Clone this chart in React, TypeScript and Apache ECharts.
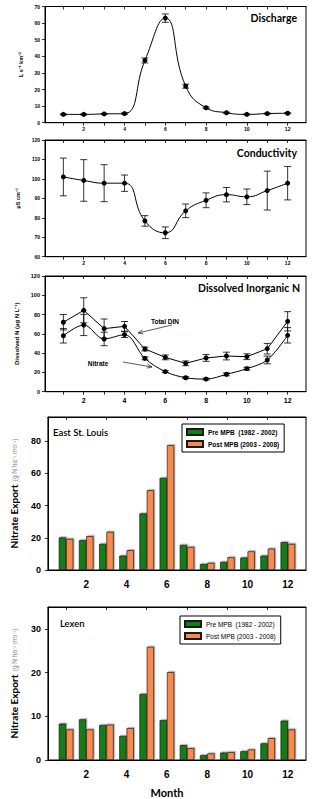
import { useEffect, useRef } from 'react';
import * as echarts from 'echarts';

// ---------- data ----------
const months = [1, 2, 3, 4, 5, 6, 7, 8, 9, 10, 11, 12];
const evenMonths = [2, 4, 6, 8, 10, 12];
const oddMonths = [1, 3, 5, 7, 9, 11];

const dischargeMean = [5, 5, 5.3, 5.5, 37.5, 63, 22, 9, 6, 5, 5.5, 5.7];
const dischargeErr = [0.3, 0.3, 0.3, 0.4, 1.5, 2.5, 1.2, 0.5, 0.3, 0.3, 0.3, 0.3];

const conductivityMean = [101, 99.2, 97.8, 97.8, 78.4, 72.3, 83.6, 89, 91.9, 90.8, 94, 97.8];
const conductivityErr = [9.7, 10.7, 9.5, 4.2, 2.7, 3, 3.5, 3.8, 3.7, 4, 10, 8.6];

const totalDinMean = [72, 84.4, 65.4, 67.8, 44.3, 35.6, 29.4, 35, 37, 36.3, 44.6, 73];
const totalDinErr = [8, 13, 10, 5, 2, 2.5, 2.5, 3.5, 4, 3, 5.5, 10];
const nitrateMean = [58, 69.2, 54.7, 59.2, 34.6, 20.8, 14.5, 13.1, 18, 23.9, 32.9, 58.5];
const nitrateErr = [7.5, 11, 7, 3, 1.5, 1, 1, 1, 1.5, 1.5, 4, 8];

const eslPre = [20.2, 18.5, 16.2, 8.9, 35.1, 57.2, 15.6, 3.7, 5, 7.7, 8.9, 17.3];
const eslPost = [19.3, 21, 23.7, 12.3, 49.5, 77.5, 14.3, 4.4, 7.9, 11.6, 13.3, 16.2];

const lexPre = [8.3, 9.3, 8.0, 5.5, 15.1, 9.1, 3.4, 1.1, 1.7, 2.0, 3.8, 9.0];
const lexPost = [7.0, 7.0, 8.1, 7.3, 25.9, 20.1, 2.7, 1.5, 1.8, 2.4, 5.0, 7.0];

const PRE = 'Pre MPB  (1982 - 2002)';
const POST = 'Post MPB (2003 - 2008)';

// ---------- styles ----------
const FONT = "'Liberation Sans', Arial, sans-serif";
const TFONT = "Lato, 'Open Sans', sans-serif";
const GREEN = '#147c14';
const ORANGE = '#fa8a4c';
const XMIN = 0.1;
const XMAX = 12.9;

const grids = [
  { left: 45, top: 6.5, width: 261, height: 116.2 },
  { left: 45, top: 140, width: 261, height: 116.7 },
  { left: 45, top: 276, width: 261, height: 115.7 },
  { left: 45, top: 417, width: 261, height: 153 },
  { left: 45, top: 607, width: 261, height: 153 },
];

function bottomX(g: number, fontSize: number, margin: number, ticks: boolean) {
  return {
    type: 'value', gridIndex: g, min: XMIN, max: XMAX, position: 'bottom',
    axisLine: { show: true, onZero: false, lineStyle: { color: '#000', width: 1 } },
    axisTick: { show: ticks, customValues: months, length: 3, inside: false, lineStyle: { color: '#000', width: 0.8 } },
    axisLabel: { customValues: evenMonths, fontSize, fontWeight: 'bold', color: '#000', margin, fontFamily: FONT },
    splitLine: { show: false },
  };
}

function topX(g: number, tickVals: number[]) {
  return {
    type: 'value', gridIndex: g, min: XMIN, max: XMAX, position: 'top',
    axisLine: { show: true, onZero: false, lineStyle: { color: '#000', width: 1 } },
    axisTick: { show: true, customValues: tickVals, length: 3, inside: true, lineStyle: { color: '#000', width: 0.8 } },
    axisLabel: { show: false },
    splitLine: { show: false },
  };
}

function yAx(g: number, min: number, max: number, interval: number, fontSize: number, margin: number,
  name: string, nameGap: number, nameTextStyle: any, hideMax = false) {
  return {
    type: 'value', gridIndex: g, min, max, interval,
    axisLine: { show: true, onZero: false, lineStyle: { color: '#000', width: 1 } },
    axisTick: { show: true, length: 3, inside: false, lineStyle: { color: '#000', width: 0.8 } },
    axisLabel: { fontSize, fontWeight: 'bold', color: '#000', margin, fontFamily: FONT, showMaxLabel: !hideMax },
    splitLine: { show: false },
    name, nameLocation: 'middle', nameRotate: 90, nameGap, nameTextStyle,
  };
}

function errSeries(g: number, mean: number[], err: number[]) {
  return {
    type: 'custom', xAxisIndex: 2 * g, yAxisIndex: g, silent: true, z: 3,
    data: months.map((m, i) => [m, mean[i] - err[i], mean[i] + err[i]]),
    encode: { x: 0, y: [1, 2] },
    renderItem: (params: any, api: any) => {
      const x = api.value(0);
      const lo = api.coord([x, api.value(1)]);
      const hi = api.coord([x, api.value(2)]);
      const w = 3.5;
      const st = { stroke: '#000', lineWidth: 0.8 };
      return {
        type: 'group',
        children: [
          { type: 'line', shape: { x1: lo[0], y1: lo[1], x2: hi[0], y2: hi[1] }, style: st },
          { type: 'line', shape: { x1: lo[0] - w, y1: lo[1], x2: lo[0] + w, y2: lo[1] }, style: st },
          { type: 'line', shape: { x1: hi[0] - w, y1: hi[1], x2: hi[0] + w, y2: hi[1] }, style: st },
        ],
      };
    },
  };
}

function lineSeries(g: number, mean: number[], smooth: number | boolean) {
  return {
    type: 'line', xAxisIndex: 2 * g, yAxisIndex: g, z: 4,
    data: months.map((m, i) => [m, mean[i]]),
    smooth, symbol: 'circle', symbolSize: 5,
    itemStyle: { color: '#000' },
    lineStyle: { color: '#000', width: 1 },
  };
}

function barSeries(g: number, name: string, vals: number[], color: string) {
  return {
    type: 'bar', name, xAxisIndex: 2 * g, yAxisIndex: g,
    data: months.map((m, i) => [m, vals[i]]),
    barWidth: 7.3, barGap: '0%',
    itemStyle: {
      color, borderColor: '#1a1a1a', borderWidth: 0.7,
      shadowColor: 'rgba(0,0,0,0.3)', shadowOffsetX: 1.2, shadowOffsetY: -1.2, shadowBlur: 0,
    },
  };
}

function legendAt(left: number, top: number, bold: boolean) {
  return {
    left, top, orient: 'vertical', icon: 'rect',
    itemWidth: 16, itemHeight: 6, itemGap: 4, padding: [4, 5, 4, 4],
    borderColor: '#000', borderWidth: 1, backgroundColor: '#fff',
    textStyle: { fontSize: 6.5, fontWeight: bold ? 'bold' : 'normal', color: '#000', fontFamily: FONT },
    data: [PRE, POST], selectedMode: false,
  };
}

function txt(text: string, x: number, y: number, size: number, align: string, weight = 'bold', family = TFONT) {
  return {
    type: 'text', x, y, silent: true,
    style: {
      text, fill: '#000', fontSize: size, fontWeight: weight, fontFamily: family,
      textAlign: align, textVerticalAlign: 'middle', align, verticalAlign: 'middle',
    },
  };
}

function arrow(x1: number, y1: number, x2: number, y2: number) {
  const dx = x2 - x1, dy = y2 - y1;
  const len = Math.sqrt(dx * dx + dy * dy);
  const ux = dx / len, uy = dy / len;
  const bx = x2 - 5 * ux, by = y2 - 5 * uy;
  const px = -uy * 2, py = ux * 2;
  const st = { stroke: '#333', lineWidth: 0.8, fill: null };
  return [
    { type: 'line', silent: true, shape: { x1, y1, x2, y2 }, style: st },
    { type: 'polyline', silent: true, shape: { points: [[bx + px, by + py], [x2, y2], [bx - px, by - py]] }, style: st },
  ];
}

export default function App() {
  const ref = useRef<HTMLDivElement>(null);
  useEffect(() => {
    const chart = echarts.init(ref.current!, null, { renderer: 'svg' });
    const smallName = { fontSize: 5.5, fontWeight: 'bold', color: '#000', fontFamily: FONT };
    const barName = {
      rich: {
        a: { fontSize: 10, fontWeight: 'bold', color: '#000', fontFamily: TFONT },
        b: { fontSize: 6.5, color: '#888', fontFamily: FONT },
      },
    };
    const option: any = {
      animation: false,
      grid: grids.map((g) => ({ ...g, show: true, borderColor: '#000', borderWidth: 1, backgroundColor: 'transparent' })),
      xAxis: [
        bottomX(0, 5, 4, true), topX(0, months),
        bottomX(1, 5, 4, true), topX(1, months),
        bottomX(2, 7, 5, true), topX(2, months),
        bottomX(3, 10, 9, false), topX(3, oddMonths),
        bottomX(4, 10, 9, false), topX(4, oddMonths),
      ],
      yAxis: [
        yAx(0, 0, 70, 10, 5, 5, 'L s⁻¹ km⁻²', 18, smallName),
        yAx(1, 60, 120, 10, 5, 5, 'µS cm⁻¹', 19, smallName),
        yAx(2, 0, 120, 20, 5.5, 5, 'Dissolved N (µg N L⁻¹)', 18, { ...smallName, fontSize: 6 }),
        yAx(3, 0, 95, 20, 9, 7, '{a|Nitrate Export} {b|(g N ha⁻¹ mo⁻¹)}', 22, barName, true),
        yAx(4, 0, 35, 10, 9, 7, '{a|Nitrate Export} {b|(g N ha⁻¹ mo⁻¹)}', 22, barName, true),
      ],
      legend: [legendAt(182, 424, true), legendAt(180, 616, false)],
      series: [
        errSeries(0, dischargeMean, dischargeErr),
        lineSeries(0, dischargeMean, 0.5),
        errSeries(1, conductivityMean, conductivityErr),
        lineSeries(1, conductivityMean, 0.5),
        errSeries(2, totalDinMean, totalDinErr),
        lineSeries(2, totalDinMean, false),
        errSeries(2, nitrateMean, nitrateErr),
        lineSeries(2, nitrateMean, 0.35),
        barSeries(3, PRE, eslPre, GREEN),
        barSeries(3, POST, eslPost, ORANGE),
        barSeries(4, PRE, lexPre, GREEN),
        barSeries(4, POST, lexPost, ORANGE),
      ],
      graphic: [
        txt('Discharge', 297, 18, 10.5, 'right'),
        txt('Conductivity', 297, 153, 10.5, 'right'),
        txt('Dissolved Inorganic N', 300, 288, 10.5, 'right'),
        txt('Total DIN', 165, 321, 6.5, 'center', 'bold', FONT),
        txt('Nitrate', 98, 363, 6.5, 'center', 'bold', FONT),
        ...arrow(172, 325, 138, 333),
        ...arrow(123, 362, 152, 367),
        txt('East St. Louis', 53, 432, 9.5, 'left', '600'),
        txt('Lexen', 60, 623.5, 9.5, 'left', '600'),
        txt('Month', 167, 792, 11, 'center'),
      ],
    };
    chart.setOption(option);
    return () => chart.dispose();
  }, []);
  return <div ref={ref} style={{ position: 'absolute', left: 0, top: 0, width: 321, height: 799 }} />;
}
